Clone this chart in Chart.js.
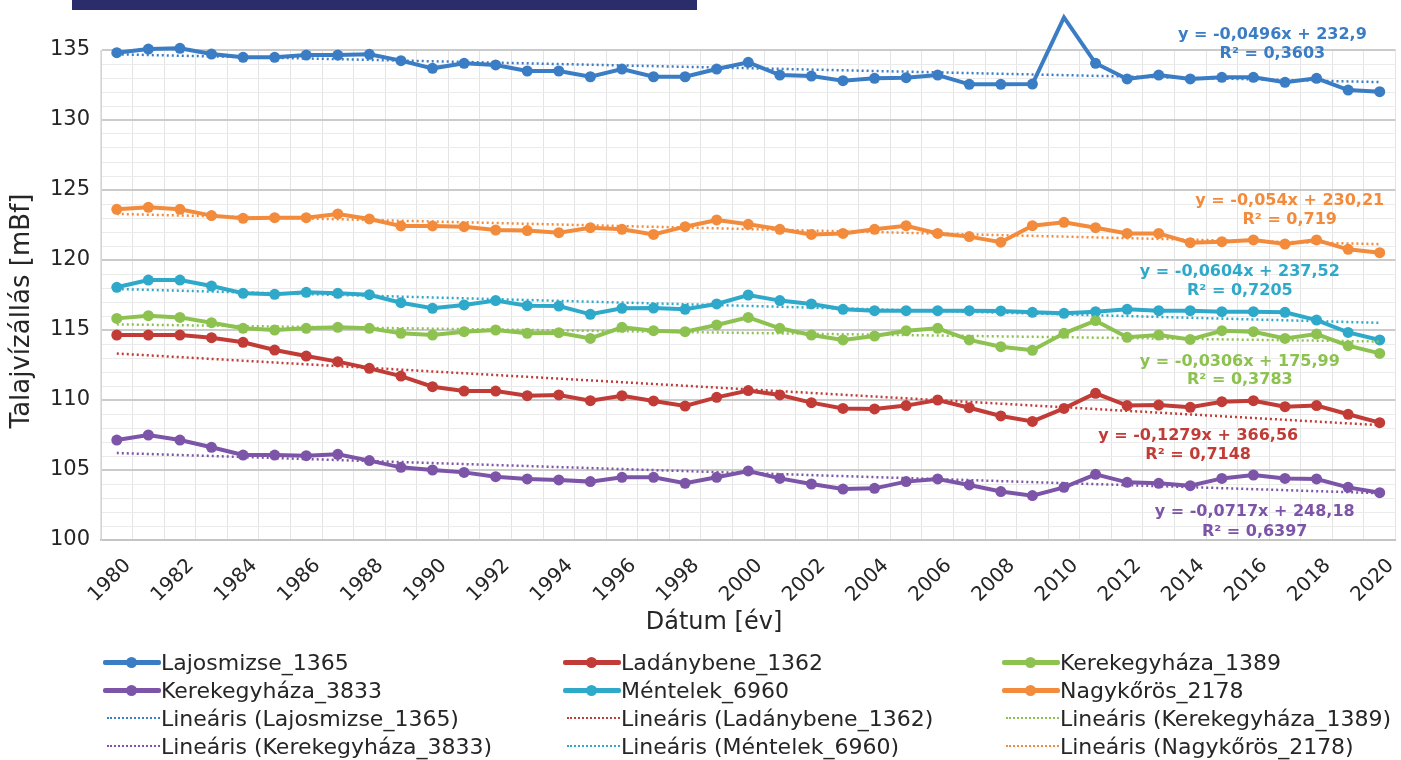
<!DOCTYPE html>
<html>
<head>
<meta charset="utf-8">
<script src="https://cdn.jsdelivr.net/npm/chart.js@4.4.1/dist/chart.umd.min.js"></script>
<style>
html,body{margin:0;padding:0;background:#fff;width:1401px;height:760px;overflow:hidden;font-family:'DejaVu Sans',sans-serif;}
#banner{position:absolute;left:72px;top:0;width:625px;height:10px;background:#2B2C6C;}
#wrap{position:absolute;left:0;top:0;width:1401px;height:650px;}
#legend{position:absolute;left:0;top:648px;width:1401px;height:112px;}
.li{position:absolute;height:28px;display:flex;align-items:center;font-size:22px;color:#262626;white-space:nowrap;}
.sw{position:relative;width:58px;height:28px;flex:none;}
.sw .ln{position:absolute;left:0;right:0;top:12px;height:5px;border-radius:2px;}
.sw .dt{position:absolute;left:23px;top:9px;width:11px;height:11px;border-radius:50%;}
.sw .dl{position:absolute;left:4px;right:1px;top:13px;height:0;border-top:2px dotted;}
</style>
</head>
<body>
<div id="banner"></div>
<div id="wrap"><canvas id="c" width="1401" height="650"></canvas></div>
<div id="legend"></div>
<script>
// ---- data ----
const years = ['1980','1981','1982','1983','1984','1985','1986','1987','1988','1989',
  '1990','1991','1992','1993','1994','1995','1996','1997','1998','1999',
  '2000','2001','2002','2003','2004','2005','2006','2007','2008','2009',
  '2010','2011','2012','2013','2014','2015','2016','2017','2018','2019','2020'];

const seriesNames = ['Lajosmizse_1365','Ladánybene_1362','Kerekegyháza_1389','Kerekegyháza_3833','Méntelek_6960','Nagykőrös_2178'];

const lajosmizse1365 = [134.81,135.07,135.12,134.71,134.48,134.48,134.64,134.64,134.69,134.24,
  133.69,134.05,133.93,133.50,133.50,133.09,133.64,133.09,133.09,133.64,
  134.12,133.21,133.14,132.81,132.98,133.02,133.21,132.55,132.55,132.57,
  137.33,134.05,132.93,133.21,132.93,133.05,133.05,132.69,132.98,132.14,132.02];
const ladanybene1362 = [114.64,114.64,114.64,114.45,114.12,113.57,113.14,112.74,112.26,111.71,
  110.95,110.64,110.64,110.31,110.36,109.95,110.31,109.93,109.57,110.19,
  110.67,110.36,109.81,109.40,109.36,109.60,110.00,109.45,108.86,108.47,
  109.40,110.48,109.60,109.64,109.48,109.88,109.95,109.52,109.60,108.98,108.38];
const kerekegyhaza1389 = [115.83,116.02,115.90,115.52,115.12,115.00,115.12,115.19,115.12,114.76,
  114.64,114.88,115.00,114.76,114.81,114.40,115.19,114.95,114.88,115.36,
  115.90,115.12,114.64,114.29,114.57,114.95,115.12,114.29,113.81,113.55,
  114.76,115.67,114.48,114.64,114.33,114.95,114.88,114.40,114.71,113.88,113.33];
const kerekegyhaza3833 = [107.14,107.50,107.14,106.62,106.07,106.07,106.02,106.12,105.67,105.19,
  105.00,104.83,104.52,104.36,104.29,104.17,104.48,104.48,104.05,104.48,
  104.93,104.40,104.00,103.64,103.69,104.17,104.36,103.93,103.46,103.17,
  103.76,104.69,104.12,104.05,103.88,104.40,104.64,104.40,104.36,103.76,103.38];
const mentelek6960 = [118.05,118.57,118.57,118.14,117.62,117.55,117.69,117.62,117.52,116.95,
  116.55,116.79,117.10,116.74,116.71,116.12,116.55,116.57,116.48,116.86,
  117.50,117.10,116.86,116.48,116.38,116.38,116.38,116.38,116.36,116.26,
  116.19,116.31,116.48,116.38,116.38,116.31,116.31,116.26,115.71,114.83,114.29];
const nagykoros2178 = [123.62,123.76,123.62,123.17,122.98,123.02,123.02,123.29,122.93,122.43,
  122.43,122.38,122.14,122.10,121.95,122.31,122.19,121.83,122.38,122.86,
  122.55,122.19,121.83,121.90,122.19,122.45,121.90,121.67,121.27,122.45,
  122.69,122.31,121.90,121.90,121.24,121.31,121.43,121.14,121.43,120.76,120.52];

// linear trendline coefficients as printed on the chart (y = a*x + b, x = year)
const trendSlopes     = [-0.0496, -0.1279, -0.0306, -0.0717, -0.0604, -0.054];
const trendIntercepts = [232.9, 366.56, 175.99, 248.18, 237.52, 230.21];
const equationTexts = ['y = -0,0496x + 232,9','y = -0,1279x + 366,56','y = -0,0306x + 175,99',
  'y = -0,0717x + 248,18','y = -0,0604x + 237,52','y = -0,054x + 230,21'];
const r2Texts = ['R² = 0,3603','R² = 0,7148','R² = 0,3783','R² = 0,6397','R² = 0,7205','R² = 0,719'];

const yTickLabels = [100,105,110,115,120,125,130,135];
const xTickLabels = years.filter((y,i)=> i % 2 === 0);

// ---- styles ----
const colors = ['#3B7DC4','#C23C37','#8DC251','#7D55A8','#2FA9CA','#F38B3C'];
const seriesData = [lajosmizse1365, ladanybene1362, kerekegyhaza1389, kerekegyhaza3833, mentelek6960, nagykoros2178];
// label anchor positions (year, value) for the equation labels
const eqAnchor = [[2016.6,136.07],[2014.25,107.43],[2015.57,112.71],[2016.04,102.0],[2015.57,119.14],[2017.15,124.21]];
const r2Anchor = [[2016.6,134.71],[2014.25,106.07],[2015.57,111.43],[2016.04,100.57],[2015.57,117.79],[2017.15,122.86]];

const datasets = [];
seriesData.forEach((d,i)=>{
  datasets.push({
    label: seriesNames[i], data: d, borderColor: colors[i], backgroundColor: colors[i],
    borderWidth: 4, pointRadius: 5.5, pointHoverRadius: 5.5, pointBorderWidth: 0,
    tension: 0, clip: false, order: 2
  });
});
seriesData.forEach((d,i)=>{
  datasets.push({
    label: 'Lineáris (' + seriesNames[i] + ')',
    data: years.map(y => trendSlopes[i]*Number(y) + trendIntercepts[i]),
    borderColor: colors[i], borderWidth: 2.5, borderDash: [2,3], pointRadius: 0,
    tension: 0, clip: false, order: 1
  });
});

const annot = {
  id: 'annot',
  afterDatasetsDraw(chart){
    const ctx = chart.ctx, xs = chart.scales.x, ys = chart.scales.y;
    ctx.save();
    ctx.font = 'bold 16px "DejaVu Sans"';
    ctx.textAlign = 'center';
    ctx.textBaseline = 'middle';
    for(let i=0;i<6;i++){
      ctx.fillStyle = colors[i];
      ctx.fillText(equationTexts[i], xs.getPixelForValue(eqAnchor[i][0]-1980), ys.getPixelForValue(eqAnchor[i][1]));
      ctx.fillText(r2Texts[i], xs.getPixelForValue(r2Anchor[i][0]-1980), ys.getPixelForValue(r2Anchor[i][1]));
    }
    // axis titles
    ctx.fillStyle = '#262626';
    ctx.font = '24px "DejaVu Sans"';
    ctx.fillText('Dátum [év]', 714, 623);
    ctx.font = '26px "DejaVu Sans"';
    ctx.translate(22, 311);
    ctx.rotate(-Math.PI/2);
    ctx.fillText('Talajvízállás [mBf]', 0, 0);
    ctx.restore();
  }
};

new Chart(document.getElementById('c'), {
  type: 'line',
  data: { labels: years, datasets },
  options: {
    responsive: false, animation: false, devicePixelRatio: 1,
    layout: { padding: { top: 50, right: 3, left: 0, bottom: 0 } },
    plugins: { legend: { display: false }, tooltip: { enabled: false } },
    scales: {
      x: {
        type: 'category', offset: true,
        grid: { offset: true, color: '#e4e4e4', lineWidth: 1, drawTicks: false },
        border: { color: '#c4c4c4', width: 2 },
        ticks: {
          autoSkip: false, minRotation: 45, maxRotation: 45, padding: 14, labelOffset: 11,
          color: '#262626', font: { family: 'DejaVu Sans', size: 20 },
          callback: function(v, i){ const l = this.getLabelForValue(v); return xTickLabels.includes(l) ? l : ''; }
        },
        afterFit(s){ s.height = 110; s.paddingRight = 0; s.paddingLeft = 0; }
      },
      y: {
        min: 100, max: 135,
        grid: {
          drawTicks: false,
          color: c => (c.tick && yTickLabels.includes(c.tick.value)) ? '#cbcbcb' : '#ebebeb',
          lineWidth: c => (c.tick && yTickLabels.includes(c.tick.value)) ? 2 : 1
        },
        border: { color: '#d4d4d4', width: 1 },
        ticks: {
          stepSize: 1, autoSkip: false, padding: 11, color: '#262626',
          font: { family: 'DejaVu Sans', size: 21 },
          callback: v => yTickLabels.includes(v) ? String(v) : ''
        },
        afterFit(s){ s.width = 101; }
      }
    }
  },
  plugins: [annot]
});

// ---- HTML legend ----
const legendCols = [103, 563, 1002];
const legend = document.getElementById('legend');
datasets.forEach((ds, k) => {
  const isTrend = k >= 6;
  const idx = k % 6;
  const row = (isTrend ? 2 : 0) + Math.floor(idx / 3);
  const col = idx % 3;
  const item = document.createElement('div');
  item.className = 'li';
  item.style.left = legendCols[col] + 'px';
  item.style.top = (row * 28) + 'px';
  const sw = document.createElement('div');
  sw.className = 'sw';
  if (isTrend) {
    sw.innerHTML = '<div class="dl" style="border-top-color:' + colors[idx] + '"></div>';
  } else {
    sw.innerHTML = '<div class="ln" style="background:' + colors[idx] + '"></div><div class="dt" style="background:' + colors[idx] + '"></div>';
  }
  const t = document.createElement('span');
  t.textContent = ds.label;
  item.appendChild(sw); item.appendChild(t);
  legend.appendChild(item);
});
</script>
</body>
</html>
